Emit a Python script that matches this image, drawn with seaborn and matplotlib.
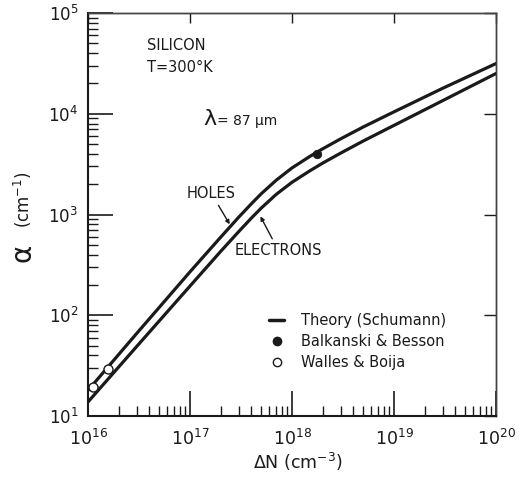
import matplotlib
matplotlib.use("Agg")
import matplotlib.pyplot as plt
from matplotlib.lines import Line2D
from matplotlib.ticker import LogLocator, NullLocator, NullFormatter
import pandas as pd
import seaborn as sns

# Free-carrier absorption in silicon, theory curves (Schumann)
n_cm3 = [1e16, 3e16, 1e17, 2e17, 3e17, 4e17, 5e17, 7e17, 1e18, 1.5e18, 2e18,
         3e18, 5e18, 1e19, 3e19, 1e20]
alpha_holes = [18, 66, 270, 596, 940, 1280, 1610, 2190, 2900, 3780, 4490,
               5640, 7400, 10450, 17900, 31500]
alpha_electrons = [13.8, 49, 195, 431, 676, 923, 1160, 1585, 2090, 2720, 3240,
                   4070, 5370, 7670, 13500, 25100]

# Measurements
balkanski_n = [1.75e18]
balkanski_alpha = [4000]
walles_n = [1.12e16, 1.57e16]
walles_alpha = [19.5, 29]

x_ticks = [1e16, 1e17, 1e18, 1e19, 1e20]
x_ticklabels = ["$10^{16}$", "$10^{17}$", "$10^{18}$", "$10^{19}$", "$10^{20}$"]
y_ticks = [1e1, 1e2, 1e3, 1e4, 1e5]
y_ticklabels = ["$10^{1}$", "$10^{2}$", "$10^{3}$", "$10^{4}$", "$10^{5}$"]

sns.set_theme(style="ticks")
plt.rcParams["font.family"] = ["DejaVu Sans"]
plt.rcParams["mathtext.default"] = "regular"

ink = "#1a1a1a"

curves = pd.DataFrame({
    "N": n_cm3 * 2,
    "alpha": alpha_holes + alpha_electrons,
    "carrier": ["HOLES"] * len(n_cm3) + ["ELECTRONS"] * len(n_cm3),
})

fig = plt.figure(figsize=(5.19, 4.82), dpi=100)
ax = fig.add_axes([0.1696, 0.1369, 0.7861, 0.8361])

sns.lineplot(data=curves, x="N", y="alpha", units="carrier", estimator=None,
             color=ink, lw=2.3, ax=ax, legend=False)
sns.scatterplot(x=balkanski_n, y=balkanski_alpha, ax=ax, color=ink, s=38,
                edgecolor=ink, zorder=5, legend=False)
sns.scatterplot(x=walles_n, y=walles_alpha, ax=ax, facecolor="white", s=42,
                edgecolor=ink, linewidth=1.0, zorder=5, legend=False)

ax.set_xscale("log")
ax.set_yscale("log")
ax.set_xlim(1e16, 1e20)
ax.set_ylim(1e1, 1e5)
ax.set_xticks(x_ticks)
ax.set_xticklabels(x_ticklabels, fontsize=12.5, color=ink)
ax.set_yticks(y_ticks)
ax.set_yticklabels(y_ticklabels, fontsize=12, color=ink)
ax.xaxis.set_minor_locator(LogLocator(base=10, subs=range(2, 10), numticks=20))
ax.yaxis.set_minor_locator(LogLocator(base=10, subs=range(2, 10), numticks=20))
ax.xaxis.set_minor_formatter(NullFormatter())
ax.yaxis.set_minor_formatter(NullFormatter())
ax.tick_params(axis="both", which="major", direction="in", length=18, width=1.2,
               color=ink, top=False, right=False)
ax.tick_params(axis="x", which="major", pad=9)
ax.tick_params(axis="y", which="major", pad=7)
ax.tick_params(axis="both", which="minor", direction="in", length=7, width=1.0,
               color=ink, top=False, right=False)
ax.set_xlabel("")
ax.set_ylabel("")

# Short major ticks only along the top and right frame
top = ax.secondary_xaxis("top")
top.set_xticks(x_ticks)
top.set_xticklabels([])
top.xaxis.set_minor_locator(NullLocator())
top.tick_params(direction="in", length=7, width=1.0, color=ink)
right = ax.secondary_yaxis("right")
right.set_yticks(y_ticks)
right.set_yticklabels([])
right.yaxis.set_minor_locator(NullLocator())
right.tick_params(direction="in", length=9, width=1.0, color=ink)
for sp in [top.spines["top"], right.spines["right"]]:
    sp.set_linewidth(1.0)
for name in ["left", "bottom"]:
    ax.spines[name].set_linewidth(1.5)
    ax.spines[name].set_color(ink)
for name in ["top", "right"]:
    ax.spines[name].set_linewidth(1.0)
    ax.spines[name].set_color("#444444")

# Annotations
txt = dict(color=ink, fontsize=10.5)
ax.text(0.145, 0.92, "SILICON", transform=ax.transAxes, va="center", ha="left", **txt)
ax.text(0.145, 0.864, "T=300°K", transform=ax.transAxes, va="center", ha="left", **txt)
ax.text(0.282, 0.737, "λ", transform=ax.transAxes, va="center", ha="left",
        fontsize=16, color=ink)
ax.text(0.317, 0.733, "= 87 µm", transform=ax.transAxes, va="center", ha="left",
        fontsize=10, color=ink)

arrow = dict(arrowstyle="-|>", color=ink, lw=1.0, mutation_scale=6,
             shrinkA=1, shrinkB=0)
ax.annotate("HOLES", xy=(2.45e17, 800), xytext=(9.3e16, 1620),
            ha="left", va="center", arrowprops=arrow, **txt)
ax.annotate("ELECTRONS", xy=(4.9e17, 960), xytext=(2.75e17, 437),
            ha="left", va="center", arrowprops=arrow, **txt)

# Legend
handles = [
    Line2D([], [], color=ink, lw=2.5),
    Line2D([], [], ls="none", marker="o", ms=6, color=ink),
    Line2D([], [], ls="none", marker="o", ms=6, mfc="white", mec=ink, mew=1.0),
]
labels = ["Theory (Schumann)", "Balkanski & Besson", "Walles & Boija"]
leg = ax.legend(handles, labels, loc="upper left", bbox_to_anchor=(0.43, 0.27),
                frameon=False, handlelength=1.0, handletextpad=1.2,
                labelspacing=0.42, fontsize=10.5, borderaxespad=0)
for t in leg.get_texts():
    t.set_color(ink)

# Axis titles
fig.text(22 / 519, 1 - 253 / 482, "α", rotation=90, ha="center", va="center",
         fontsize=20, color=ink)
fig.text(23 / 519, 1 - 200 / 482, "(cm$^{-1}$)", rotation=90, ha="center",
         va="center", fontsize=12, color=ink)
fig.text(298 / 519, 1 - 462 / 482, "ΔN (cm$^{-3}$)", ha="center", va="center",
         fontsize=12.5, color=ink)

fig.savefig("out.png", dpi=100, facecolor="white")
